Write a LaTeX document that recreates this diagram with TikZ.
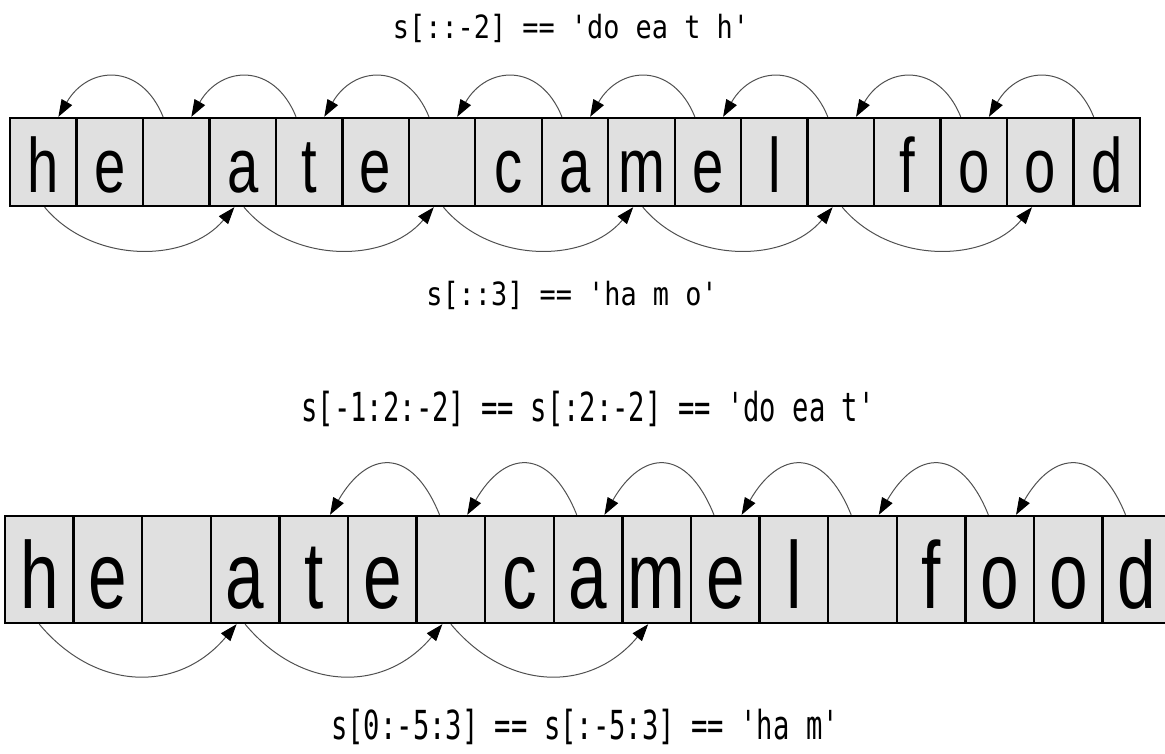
\documentclass[tikz,border=0pt]{standalone}
\usepackage{fontspec}
\usepackage{tikz}
\usetikzlibrary{arrows.meta,calc}
\newfontfamily\cellfont[FakeStretch=0.73]{Liberation Sans}
\newfontfamily\codefont[FakeStretch=0.84,Ligatures=TeXOff]{DejaVu Sans Mono}
\newfontfamily\codefontb[FakeStretch=0.68,Ligatures=TeXOff]{DejaVu Sans Mono}
\definecolor{cellgray}{RGB}{224,224,224}
\definecolor{arcgray}{RGB}{80,80,80}
\tikzset{
  cellbox/.style={draw=black, line width=2.4pt, fill=cellgray, inner sep=0pt, align=center},
  cellsmall/.style={cellbox, text width=66.47pt, text height=75pt, text depth=13pt,
    font=\cellfont\fontsize{77pt}{77pt}\selectfont},
  cellbig/.style={cellbox, text width=68.6pt, text height=92pt, text depth=15pt,
    font=\cellfont\fontsize{95pt}{95pt}\selectfont},
  hoparc/.style={draw=arcgray, line width=1pt, -{Triangle[length=17pt,width=12pt,black]}},
  codelbl/.style={inner sep=0pt, font=\codefont\fontsize{32pt}{32pt}\selectfont},
  codelblb/.style={inner sep=0pt, font=\codefontb\fontsize{40pt}{40pt}\selectfont},
}

\begin{document}
\begin{tikzpicture}[x=1pt, y=1pt]
    \useasboundingbox (0,0) rectangle (1165,753);
    \clip (0,0) rectangle (1165,753);
    % Upper string
    \foreach \ch [count=\i from 0] in {h,e,{},a,t,e,{},c,a,m,e,l,{},f,o,o,d}
      \node[cellsmall] (t\i) at ({10+(\i+0.5)*66.47}, 591) {\ch};
    % Upper string: step -2 over the top
    \foreach \i in {16,14,...,2} {
      \pgfmathtruncatemacro\j{\i-2}
      \draw[hoparc] ($(t\i.north west)!0.31!(t\i.north east)$)
        to[out=112, in=60, looseness=1.45] ($(t\j.north west)!0.72!(t\j.north east)$);
    }
    % Upper string: step 3 underneath
    \foreach \i in {0,3,...,12} {
      \pgfmathtruncatemacro\j{\i+3}
      \draw[hoparc] ($(t\i.south west)!0.52!(t\i.south east)$)
        to[out=-50, in=-130, looseness=1.0] ($(t\j.south west)!0.38!(t\j.south east)$);
    }
    \node[codelbl] (lbl1) at (571, 725) {s[::-2] == 'do ea t h'};
    \node[codelbl] (lbl2) at (572, 458) {s[::3] == 'ha m o'};
    % Lower string
    \foreach \ch [count=\i from 0] in {h,e,{},a,t,e,{},c,a,m,e,l,{},f,o,o,d}
      \node[cellbig] (b\i) at ({5+(\i+0.5)*68.6}, 183.5) {\ch};
    % Lower string: step -2 from the end, stop at 2
    \foreach \i in {16,14,...,6} {
      \pgfmathtruncatemacro\j{\i-2}
      \draw[hoparc] ($(b\i.north west)!0.34!(b\i.north east)$)
        to[out=112, in=60, looseness=1.75] ($(b\j.north west)!0.73!(b\j.north east)$);
    }
    % Lower string: step 3, stop at -5
    \foreach \i in {0,3,6} {
      \pgfmathtruncatemacro\j{\i+3}
      \draw[hoparc] ($(b\i.south west)!0.5!(b\i.south east)$)
        to[out=-50, in=-130, looseness=1.16] ($(b\j.south west)!0.38!(b\j.south east)$);
    }
    \node[codelblb] (lbl3) at (588, 344) {s[-1:2:-2] == s[:2:-2] == 'do ea t'};
    \node[codelblb] (lbl4) at (585, 26) {s[0:-5:3] == s[:-5:3] == 'ha m'};
\end{tikzpicture}
\end{document}
